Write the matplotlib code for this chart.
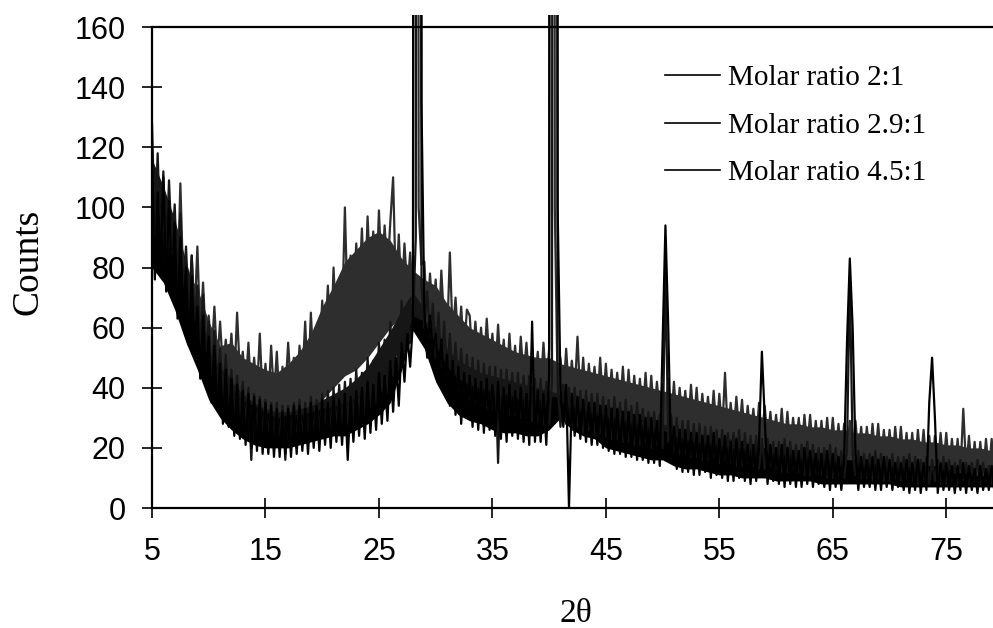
import numpy as np
import matplotlib
matplotlib.use("Agg")
import matplotlib.pyplot as plt

# 2-theta scan grid (0.25 deg steps from 5 to 80)
two_theta = np.linspace(5, 80, 301)
# coarse grid (1 deg) for the dense-noise band of each pattern
band_theta = np.arange(5, 81)

# Counts, four readings per degree (d, d+.25, d+.5, d+.75);
# the two strongest reflections run far off scale (>160)
ratio_2_0 = [
    110, 85, 104, 90,   99, 80, 95, 82,    93, 73, 108, 75,   81, 66, 84, 63,    87, 58, 75, 55,
    64, 51, 67, 48,     62, 46, 56, 45,    58, 42, 65, 44,    52, 40, 55, 37,    50, 38, 58, 36,
    48, 35, 54, 37,     52, 34, 47, 38,    55, 39, 50, 36,    54, 43, 62, 40,    65, 46, 60, 48,
    69, 55, 74, 52,     80, 58, 76, 62,    100, 64, 84, 67,   88, 71, 93, 68,    97, 75, 92, 72,
    99, 76, 94, 78,     95, 110, 71, 91,   69, 88, 72, 85,    67, 1500, 100, 81, 82, 62, 78, 64,
    76, 58, 79, 61,     55, 85, 57, 70,    54, 67, 51, 66,    64, 49, 62, 50,    60, 46, 63, 48,
    58, 44, 61, 45,     56, 42, 58, 43,    54, 41, 57, 43,    55, 40, 53, 42,    52, 39, 55, 40,
    53, 1500, 100, 39,  50, 37, 53, 38,    49, 38, 57, 36,    50, 36, 48, 37,    47, 35, 50, 34,
    48, 34, 46, 35,     45, 33, 47, 32,    46, 32, 44, 33,    43, 31, 45, 30,    44, 30, 42, 31,
    41, 29, 43, 28,     42, 28, 40, 29,    39, 27, 41, 28,    40, 26, 38, 27,    37, 26, 39, 25,
    38, 25, 45, 24,     35, 24, 37, 25,    36, 23, 34, 24,    33, 22, 35, 23,    34, 22, 32, 21,
    31, 21, 33, 20,     32, 20, 30, 21,    30, 19, 31, 20,    31, 19, 29, 18,    29, 18, 30, 19,
    30, 18, 28, 17,     28, 17, 29, 18,    29, 17, 27, 16,    27, 16, 28, 17,    28, 16, 26, 15,
    26, 15, 27, 16,     27, 15, 25, 14,    25, 14, 26, 15,    26, 14, 24, 13,    24, 13, 25, 14,
    25, 13, 23, 12,     23, 12, 33, 13,    24, 12, 22, 11,    22, 11, 23, 12,    23, 11, 21, 10,
    22,
]

ratio_2_9 = [
    128, 92, 118, 88,   112, 84, 109, 86,  101, 75, 98, 72,   87, 64, 84, 62,    74, 54, 71, 52,
    62, 43, 59, 41,     53, 36, 51, 35,    46, 31, 44, 30,    42, 27, 40, 16,    38, 24, 37, 23,
    36, 22, 35, 21,     35, 21, 34, 16,    34, 21, 35, 20,    36, 22, 35, 21,    37, 23, 36, 22,
    38, 24, 39, 23,     40, 26, 41, 25,    42, 28, 43, 27,    46, 30, 45, 31,    50, 34, 49, 35,
    55, 39, 56, 38,     62, 44, 61, 46,    69, 51, 68, 55,    62, 90, 1500, 74,  60, 72, 57, 68,
    50, 65, 47, 62,     44, 58, 42, 55,    39, 53, 38, 51,    36, 50, 35, 49,    34, 48, 33, 47,
    33, 47, 15, 46,     32, 46, 31, 45,    31, 45, 30, 44,    30, 44, 29, 43,    29, 43, 28, 42,
    28, 42, 1500, 41,   27, 41, 28, 40,    26, 40, 27, 39,    25, 39, 26, 38,    24, 38, 25, 37,
    24, 36, 23, 37,     23, 35, 22, 36,    22, 34, 21, 35,    21, 33, 22, 32,    20, 32, 21, 31,
    20, 79, 22, 31,     19, 30, 18, 29,    18, 29, 17, 28,    17, 28, 16, 27,    16, 27, 17, 26,
    15, 26, 16, 25,     15, 25, 14, 26,    14, 25, 15, 24,    14, 24, 13, 23,    13, 23, 14, 22,
    13, 22, 12, 23,     12, 22, 13, 21,    12, 21, 11, 22,    11, 21, 12, 20,    11, 20, 10, 21,
    10, 20, 11, 19,     10, 19, 77, 18,    11, 19, 10, 18,    10, 18, 9, 19,     10, 18, 9, 17,
    9, 18, 10, 17,      9, 17, 10, 18,     9, 17, 8, 16,      9, 17, 8, 16,      9, 16, 8, 17,
    8, 16, 9, 15,       8, 16, 9, 15,      8, 15, 9, 16,      8, 15, 9, 14,      8, 15, 9, 14,
    15,
]

ratio_4_5 = [
    118, 76, 105, 80,   110, 72, 102, 74,  95, 63, 90, 65,    80, 54, 77, 52,    67, 43, 64, 45,
    57, 35, 54, 33,     48, 28, 46, 27,    43, 24, 41, 23,    39, 21, 38, 20,    37, 19, 36, 18,
    35, 18, 34, 17,     33, 17, 32, 18,    33, 17, 34, 18,    34, 19, 33, 18,    35, 20, 34, 19,
    36, 21, 35, 20,     37, 22, 36, 21,    38, 16, 37, 22,    39, 24, 40, 23,    42, 25, 41, 26,
    45, 28, 44, 29,     49, 32, 50, 34,    55, 42, 58, 47,    62, 1500, 1500, 135, 66, 50, 64, 52,
    58, 42, 56, 38,     51, 34, 49, 31,    47, 28, 45, 30,    44, 27, 43, 26,    42, 25, 43, 26,
    41, 24, 42, 23,     40, 22, 41, 24,    39, 23, 40, 22,    38, 21, 62, 22,    39, 22, 38, 21,
    45, 1500, 1500, 100, 40, 27, 41, 0,    38, 24, 37, 23,    36, 22, 35, 21,    35, 21, 34, 20,
    34, 19, 33, 18,     33, 18, 32, 17,    32, 17, 31, 16,    31, 16, 30, 15,    30, 15, 29, 14,
    55, 94, 60, 15,     27, 13, 26, 12,    26, 12, 25, 11,    25, 11, 24, 12,    24, 10, 25, 11,
    23, 10, 24, 9,      22, 9, 23, 10,     22, 9, 21, 8,      21, 9, 22, 52,     30, 8, 21, 9,
    20, 8, 21, 7,       20, 8, 19, 7,      19, 7, 20, 8,      19, 7, 18, 8,      18, 7, 19, 6,
    18, 7, 17, 6,       17, 55, 83, 60,    18, 6, 17, 7,      16, 7, 17, 6,      16, 6, 17, 7,
    16, 6, 15, 7,       15, 6, 16, 5,      15, 6, 16, 5,      15, 6, 35, 50,     30, 5, 15, 6,
    15, 6, 14, 5,       14, 6, 15, 5,      14, 6, 13, 5,      14, 6, 13, 6,      14, 5, 13, 6,
    13,
]

# Solid (densely filled) part of each noisy band, low / high edge, one reading per degree 5..80
band_lo_2_0 = [90, 84, 77, 67, 59, 52, 48, 40, 36, 33, 31, 30, 30, 31, 33, 36, 40, 44, 46, 50,
               55, 60, 64, 70, 65, 58, 51, 47, 45, 43, 42, 41, 40, 39, 38, 37, 36, 35, 34, 33,
               32, 31, 30, 28, 27, 26, 25, 24, 23, 22, 21, 21, 20, 19, 18, 18, 17, 17, 16, 16,
               15, 14, 14, 14, 13, 13, 13, 12, 12, 12, 11, 11, 11, 10, 10, 10]
band_hi_2_0 = [102, 93, 90, 79, 73, 62, 54, 55, 50, 48, 46, 45, 48, 52, 58, 67, 74, 82, 86, 90,
               92, 89, 83, 79, 76, 74, 68, 64, 60, 58, 56, 54, 52, 51, 50, 50, 48, 47, 46, 45,
               44, 43, 42, 41, 40, 39, 38, 37, 36, 35, 34, 33, 32, 31, 30, 29, 28, 28, 27, 27,
               26, 26, 25, 25, 24, 24, 23, 23, 22, 22, 21, 21, 20, 20, 19, 19]
band_lo_2_9 = [92, 87, 76, 65, 55, 44, 38, 33, 29, 26, 24, 23, 23, 24, 25, 26, 28, 30, 32, 36,
               41, 47, 54, 63, 60, 50, 45, 40, 37, 36, 35, 34, 33, 32, 31, 30, 30, 29, 28, 27,
               26, 25, 24, 24, 23, 23, 20, 19, 18, 18, 17, 16, 16, 15, 15, 14, 14, 13, 13, 12,
               12, 11, 12, 11, 11, 11, 11, 10, 10, 10, 10, 10, 10, 10, 10, 10]
band_hi_2_9 = [116, 107, 96, 82, 69, 57, 49, 42, 38, 35, 33, 32, 32, 33, 34, 36, 38, 40, 43, 47,
               53, 59, 66, 72, 66, 60, 53, 49, 47, 45, 44, 43, 42, 41, 40, 39, 38, 37, 36, 35,
               34, 33, 32, 30, 29, 28, 27, 26, 25, 24, 23, 23, 22, 21, 20, 20, 19, 19, 18, 18,
               17, 16, 16, 16, 15, 15, 15, 14, 14, 14, 13, 13, 13, 12, 12, 12]
band_lo_4_5 = [80, 75, 66, 55, 46, 36, 30, 26, 23, 21, 20, 20, 20, 21, 22, 23, 24, 24, 26, 28,
               31, 35, 46, 59, 53, 42, 35, 31, 29, 28, 26, 25, 25, 24, 24, 26, 30, 26, 24, 23,
               20, 19, 18, 17, 16, 16, 14, 13, 13, 12, 11, 11, 10, 10, 10, 9, 9, 9, 9, 8,
               8, 8, 8, 8, 8, 8, 7, 7, 7, 7, 7, 7, 7, 7, 7, 7]
band_hi_4_5 = [103, 100, 88, 75, 62, 52, 44, 39, 36, 34, 32, 30, 31, 31, 32, 33, 34, 35, 37, 39,
               42, 47, 53, 64, 62, 54, 47, 43, 41, 40, 39, 38, 37, 36, 36, 37, 37, 35, 33, 32,
               31, 30, 29, 28, 27, 26, 24, 23, 22, 22, 21, 20, 20, 20, 20, 19, 18, 18, 17, 17,
               16, 16, 16, 15, 15, 15, 14, 14, 14, 14, 14, 13, 13, 12, 12, 12]

series_labels = ["Molar ratio 2:1", "Molar ratio 2.9:1", "Molar ratio 4.5:1"]
series_colors = ["#2e2e2e", "#161616", "#000000"]
x_ticks = [5, 15, 25, 35, 45, 55, 65, 75]
y_ticks = [0, 20, 40, 60, 80, 100, 120, 140, 160]

W, H = 993, 628
fig = plt.figure(figsize=(W / 100, H / 100), dpi=100)
# axes: x 5..80 spans px 152..1003 (right part cut by figure edge); y 0..164 spans px 508..15
ax = fig.add_axes([152 / W, 1 - 508 / H, 851 / W, 493 / H])

patterns = [
    (ratio_2_0, band_lo_2_0, band_hi_2_0),
    (ratio_2_9, band_lo_2_9, band_hi_2_9),
    (ratio_4_5, band_lo_4_5, band_hi_4_5),
]
for (vals, lo, hi), lab, col in zip(patterns, series_labels, series_colors):
    ax.fill_between(band_theta, lo, hi, color=col, lw=0)
    ax.plot(two_theta, vals, color=col, lw=1.6, label=lab)

ax.set_xlim(5, 80)
ax.set_ylim(0, 164)
ax.set_xticks(x_ticks)
ax.set_yticks(y_ticks)

for s in ["top", "right"]:
    ax.spines[s].set_visible(False)
for s in ["left", "bottom"]:
    ax.spines[s].set_linewidth(1.6)
ax.spines["left"].set_bounds(0, 160)
ax.axhline(160, color="black", lw=1.6, zorder=5)

ax.tick_params(axis="both", direction="inout", length=14, width=1.2,
               labelsize=22, pad=12)
for t in ax.get_xticklabels() + ax.get_yticklabels():
    t.set_fontfamily("Liberation Sans")
ax.tick_params(axis="x", pad=14)

ax.set_ylabel("Counts", fontfamily="Liberation Serif", fontsize=27)
ax.yaxis.set_label_coords((46 - 152) / 851, (508 - 268) / 481)
ax.set_xlabel("2θ", fontfamily="Liberation Serif", fontsize=24)
ax.xaxis.set_label_coords(0.498, (508 - 596) / 481)

leg = fig.legend(loc="upper left", bbox_to_anchor=(665 / W, 1 - 65 / H),
                 frameon=False, borderpad=0, borderaxespad=0,
                 handlelength=1.88, handletextpad=0.27, labelspacing=0.72,
                 prop={"family": "Liberation Serif", "size": 21})
for h in leg.get_lines():
    h.set_color("black")
    h.set_linewidth(1.2)

fig.savefig("out.png", dpi=100)
